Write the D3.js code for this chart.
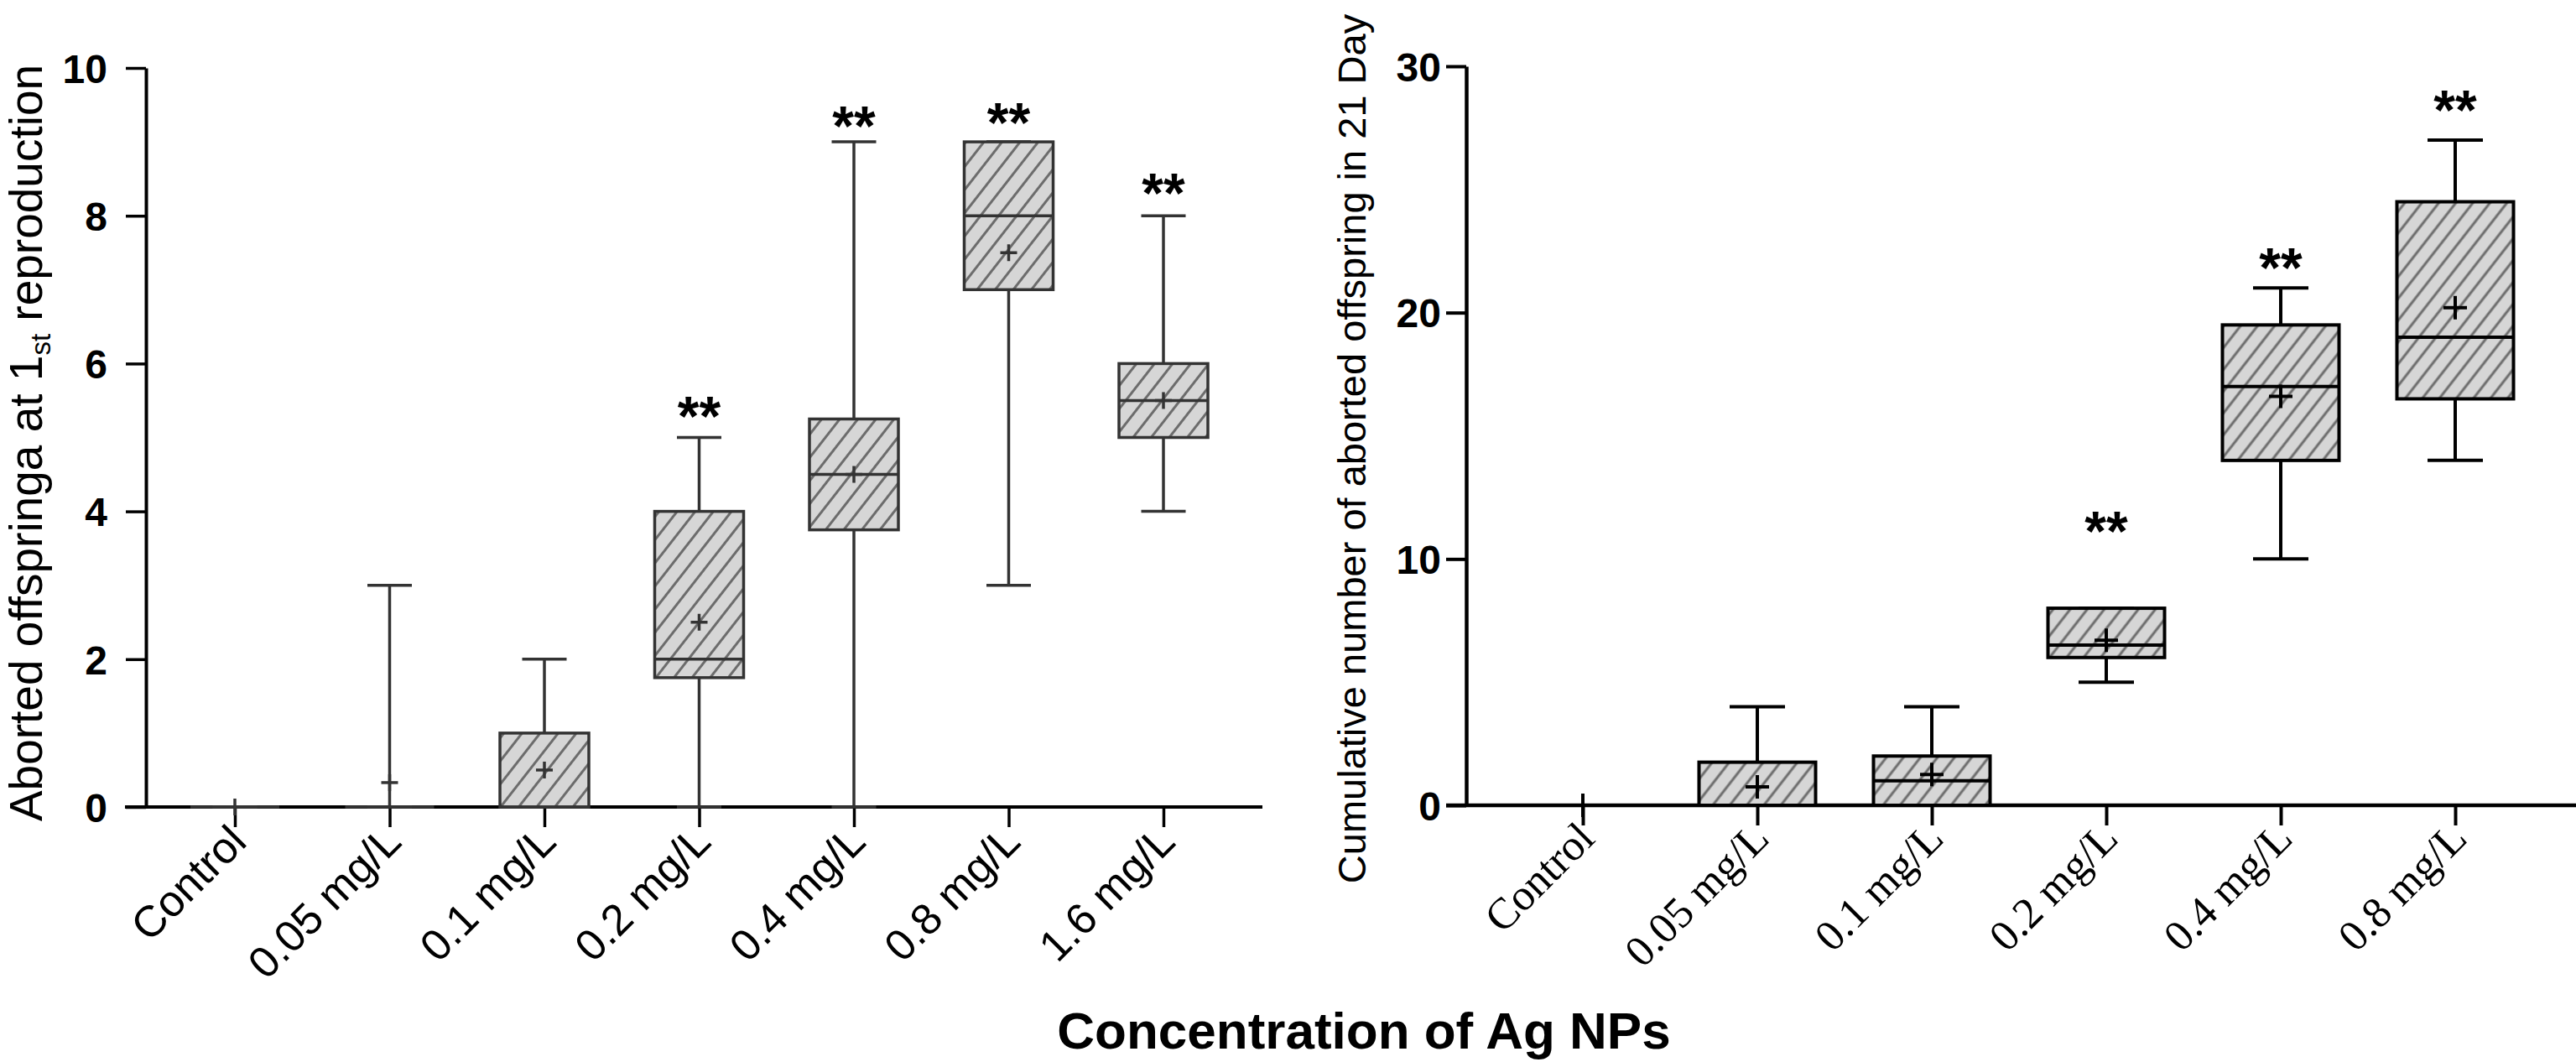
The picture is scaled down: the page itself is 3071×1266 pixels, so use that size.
<!DOCTYPE html>
<html>
<head>
<meta charset="utf-8">
<script src="https://cdn.jsdelivr.net/npm/d3@7/dist/d3.min.js"></script>
<style>
  html, body { margin: 0; padding: 0; background: #fff; }
  svg { display: block; }
</style>
</head>
<body>
<svg id="chart" width="3071" height="1266"></svg>
<script>
// ---------------- DATA ----------------
// Left panel: aborted offspring at 1st reproduction
const leftCategories = ["Control", "0.05 mg/L", "0.1 mg/L", "0.2 mg/L", "0.4 mg/L", "0.8 mg/L", "1.6 mg/L"];
const leftMin    = [0, 0,    0,   0,    0,    3,   4];
const leftQ1     = [0, 0,    0,   1.75, 3.75, 7,   5];
const leftMedian = [0, 0,    0,   2,    4.5,  8,   5.5];
const leftQ3     = [0, 0,    1,   4,    5.25, 9,   6];
const leftMax    = [0, 3,    2,   5,    9,    9,   8];
const leftMean   = [0, 0.33, 0.5, 2.5,  4.5,  7.5, 5.5];
const leftStars  = [null, null, null, 5.45, 9.37, 9.42, 8.47];
const leftTicks  = [0, 2, 4, 6, 8, 10];

// Right panel: cumulative aborted offspring in 21 days
const rightCategories = ["Control", "0.05 mg/L", "0.1 mg/L", "0.2 mg/L", "0.4 mg/L", "0.8 mg/L"];
const rightMin    = [0, 0,    0,    5,   10,   14];
const rightQ1     = [0, 0,    0,    6,   14,   16.5];
const rightMedian = [0, 0,    1,    6.5, 17,   19];
const rightQ3     = [0, 1.75, 2,    8,   19.5, 24.5];
const rightMax    = [0, 4,    4,    8,   21,   27];
const rightMean   = [0, 0.75, 1.25, 6.7, 16.6, 20.2];
const rightStars  = [null, null, null, 11.6, 22.3, 28.7];
const rightTicks  = [0, 10, 20, 30];

const leftYLabelMain = "Aborted offspringa at 1";
const leftYLabelSub = "st";
const leftYLabelEnd = " reproduction";
const rightYLabel = "Cumulative number of aborted offspring in 21 Day";
const xTitle = "Concentration of Ag NPs";

// ---------------- DRAWING ----------------
const svg = d3.select("#chart");
const defs = svg.append("defs");

function makeHatch(id, spacing, angle, lineW) {
  const p = defs.append("pattern")
    .attr("id", id)
    .attr("patternUnits", "userSpaceOnUse")
    .attr("width", spacing).attr("height", spacing)
    .attr("patternTransform", `rotate(${angle})`);
  p.append("rect").attr("width", spacing).attr("height", spacing).attr("fill", "#d6d6d6");
  p.append("line").attr("x1", spacing / 2).attr("x2", spacing / 2)
    .attr("y1", 0).attr("y2", spacing)
    .attr("stroke", "#6c6c6c").attr("stroke-width", lineW);
}
makeHatch("hatchL", 17, 38, 3);
makeHatch("hatchR", 16, 38, 3);

function buildRows(cats, mn, q1, md, q3, mx, mean, stars) {
  return cats.map((c, i) => ({ cat: c, min: mn[i], q1: q1[i], med: md[i], q3: q3[i], max: mx[i], mean: mean[i], star: stars[i] }));
}

function drawPanel(cfg) {
  const g = svg.append("g");
  const x = d3.scalePoint().domain(cfg.categories).range(cfg.xRange);
  const y = d3.scaleLinear().domain(cfg.yDomain).range(cfg.yRange);
  const rows = buildRows(cfg.categories, cfg.min, cfg.q1, cfg.med, cfg.q3, cfg.max, cfg.mean, cfg.stars);

  // x axis
  const xa = g.append("g").attr("transform", `translate(0,${y(0)})`)
    .call(d3.axisBottom(x).tickSize(cfg.tickLen).tickSizeOuter(0));
  xa.select(".domain").remove();
  xa.append("line").attr("x1", cfg.xLineFrom).attr("x2", cfg.xLineTo).attr("y1", 0).attr("y2", 0)
    .attr("stroke", "#000").attr("stroke-width", cfg.axisW);
  xa.selectAll(".tick line").attr("stroke", "#000").attr("stroke-width", cfg.tickW);
  xa.selectAll(".tick text")
    .attr("x", 0).attr("y", 0).attr("dy", 0)
    .attr("text-anchor", "end")
    .attr("transform", `translate(${cfg.labDx},${cfg.labDy}) rotate(-45)`)
    .attr("font-family", cfg.labFont)
    .attr("font-size", cfg.labSize)
    .attr("fill", "#000");

  // y axis
  const ya = g.append("g").attr("transform", `translate(${cfg.yAxisX},0)`)
    .call(d3.axisLeft(y).tickValues(cfg.ticks).tickSize(cfg.tickLen).tickSizeOuter(0).tickPadding(cfg.yPad));
  ya.select(".domain").attr("stroke", "#000").attr("stroke-width", cfg.axisW);
  ya.selectAll(".tick line").attr("stroke", "#000").attr("stroke-width", cfg.tickW);
  ya.selectAll(".tick text")
    .attr("font-family", "'Liberation Sans', Arial, sans-serif")
    .attr("font-weight", "bold")
    .attr("font-size", 48)
    .attr("dy", "0.36em")
    .attr("fill", "#000");

  const bg = g.append("g").attr("stroke", cfg.stroke).attr("stroke-width", cfg.lineW).attr("fill", "none");
  const bw = cfg.boxHalf, cw = cfg.capHalf, pw = cfg.plusHalf;

  rows.forEach(d => {
    const cx = x(d.cat);
    const grp = bg.append("g");
    // whiskers
    grp.append("line").attr("x1", cx).attr("x2", cx).attr("y1", y(d.q3)).attr("y2", y(d.max));
    grp.append("line").attr("x1", cx).attr("x2", cx).attr("y1", y(d.min)).attr("y2", y(d.q1));
    grp.append("line").attr("x1", cx - cw).attr("x2", cx + cw).attr("y1", y(d.max)).attr("y2", y(d.max));
    grp.append("line").attr("x1", cx - cw).attr("x2", cx + cw).attr("y1", y(d.min)).attr("y2", y(d.min));
    // box
    grp.append("rect")
      .attr("x", cx - bw).attr("width", 2 * bw)
      .attr("y", y(d.q3)).attr("height", Math.max(0, y(d.q1) - y(d.q3)))
      .attr("fill", `url(#${cfg.hatch})`);
    // median
    grp.append("line").attr("x1", cx - bw).attr("x2", cx + bw).attr("y1", y(d.med)).attr("y2", y(d.med));
    // mean (+)
    grp.append("line").attr("x1", cx - pw).attr("x2", cx + pw).attr("y1", y(d.mean)).attr("y2", y(d.mean));
    grp.append("line").attr("x1", cx).attr("x2", cx).attr("y1", y(d.mean) - pw).attr("y2", y(d.mean) + pw);
    // significance stars
    if (d.star !== null) {
      g.append("text")
        .attr("x", cx).attr("y", y(d.star) + 0.56 * cfg.starSize)
        .attr("text-anchor", "middle")
        .attr("font-family", "'Liberation Sans', Arial, sans-serif")
        .attr("font-weight", "bold")
        .attr("font-size", cfg.starSize)
        .attr("fill", "#000")
        .text("**");
    }
  });
  return g;
}

drawPanel({
  categories: leftCategories, min: leftMin, q1: leftQ1, med: leftMedian, q3: leftQ3, max: leftMax, mean: leftMean, stars: leftStars,
  ticks: leftTicks, yDomain: [0, 10], yRange: [962, 81], xRange: [280, 1387],
  xLineFrom: 149, xLineTo: 1505, yAxisX: 174, tickLen: 24, yPad: 22,
  axisW: 4, tickW: 3.5, lineW: 3.5, stroke: "#333", hatch: "hatchL",
  boxHalf: 53, capHalf: 26.5, plusHalf: 10, starSize: 66,
  labDx: 16, labDy: 44, labFont: "'Liberation Sans', Arial, sans-serif", labSize: 52
});

drawPanel({
  categories: rightCategories, min: rightMin, q1: rightQ1, med: rightMedian, q3: rightQ3, max: rightMax, mean: rightMean, stars: rightStars,
  ticks: rightTicks, yDomain: [0, 30], yRange: [960, 79], xRange: [1887, 2927],
  xLineFrom: 1724, xLineTo: 3071, yAxisX: 1748, tickLen: 24, yPad: 6,
  axisW: 4.5, tickW: 4, lineW: 4, stroke: "#000", hatch: "hatchR",
  boxHalf: 69.5, capHalf: 33, plusHalf: 14, starSize: 66,
  labDx: 16, labDy: 42, labFont: "'Liberation Serif', 'Times New Roman', serif", labSize: 52
});

// axis titles
const ly = svg.append("text")
  .attr("transform", "translate(50,528) rotate(-90)")
  .attr("text-anchor", "middle")
  .attr("font-family", "'Liberation Sans', Arial, sans-serif")
  .attr("font-size", 55)
  .attr("fill", "#000");
ly.append("tspan").text(leftYLabelMain);
ly.append("tspan").attr("font-size", 33).attr("dy", 10).text(leftYLabelSub);
ly.append("tspan").attr("dy", -10).text(leftYLabelEnd);

svg.append("text")
  .attr("transform", "translate(1628,535) rotate(-90)")
  .attr("text-anchor", "middle")
  .attr("font-family", "'Liberation Sans', Arial, sans-serif")
  .attr("font-size", 47)
  .attr("fill", "#000")
  .text(rightYLabel);

svg.append("text")
  .attr("x", 1626).attr("y", 1250)
  .attr("text-anchor", "middle")
  .attr("font-family", "'Liberation Sans', Arial, sans-serif")
  .attr("font-weight", "bold")
  .attr("font-size", 62)
  .attr("fill", "#000")
  .text(xTitle);
</script>
</body>
</html>
